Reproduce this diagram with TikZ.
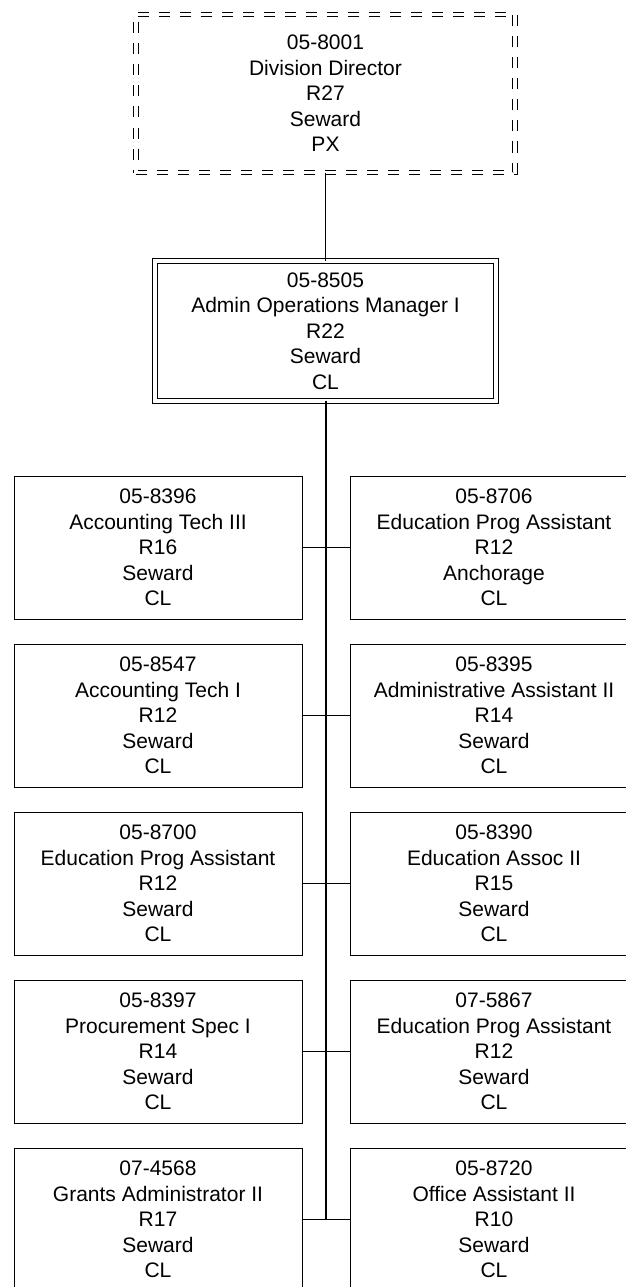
\documentclass[tikz,border=0pt]{standalone}
\usepackage{fontspec}
\setmainfont{Liberation Sans}
\begin{document}
\begin{tikzpicture}[x=1pt,y=-1pt,
  every node/.style={inner sep=0pt,outer sep=0pt,align=center,
    font=\fontsize{21}{25.5}\selectfont},
  rolebox/.style={draw=black,line width=1pt,minimum width=288pt,minimum height=143pt},
  topbox/.style={draw=black,line width=1pt,double=white,double distance=3.5pt,
    dash pattern=on 11pt off 10pt,minimum width=379pt,minimum height=158pt},
  mgrbox/.style={draw=black,line width=1pt,double=white,double distance=3.5pt,
    minimum width=341pt,minimum height=140pt},
  conn/.style={draw=black,line width=1.2pt},
  trunk/.style={draw=black,line width=2pt}]
\fill[white] (0,0) rectangle (626,1287);
\useasboundingbox (0,0) rectangle (626,1287);

\node[topbox] (dir) at (325.5,93.5) {05-8001\\Division Director\\R27\\Seward\\PX};
\node[mgrbox] (mgr) at (325.5,331) {05-8505\\Admin Operations Manager I\\R22\\Seward\\CL};

\node[rolebox] (l1) at (158,547.5) {05-8396\\Accounting Tech III\\R16\\Seward\\CL};
\node[rolebox] (r1) at (494,547.5) {05-8706\\Education Prog Assistant\\R12\\Anchorage\\CL};
\node[rolebox] (l2) at (158,715.5) {05-8547\\Accounting Tech I\\R12\\Seward\\CL};
\node[rolebox] (r2) at (494,715.5) {05-8395\\Administrative Assistant II\\R14\\Seward\\CL};
\node[rolebox] (l3) at (158,883.5) {05-8700\\Education Prog Assistant\\R12\\Seward\\CL};
\node[rolebox] (r3) at (494,883.5) {05-8390\\Education Assoc II\\R15\\Seward\\CL};
\node[rolebox] (l4) at (158,1051.5) {05-8397\\Procurement Spec I\\R14\\Seward\\CL};
\node[rolebox] (r4) at (494,1051.5) {07-5867\\Education Prog Assistant\\R12\\Seward\\CL};
\node[rolebox] (l5) at (158,1219.5) {07-4568\\Grants Administrator II\\R17\\Seward\\CL};
\node[rolebox] (r5) at (494,1219.5) {05-8720\\Office Assistant II\\R10\\Seward\\CL};

\draw[conn] (dir.south) -- (mgr.north);
\coordinate (tend) at (mgr.south |- l5.east);
\draw[trunk] (mgr.south) -- (tend);
\foreach \i in {1,...,5} {
  \draw[conn] (l\i.east) -- (r\i.west);
}
\end{tikzpicture}
\end{document}
